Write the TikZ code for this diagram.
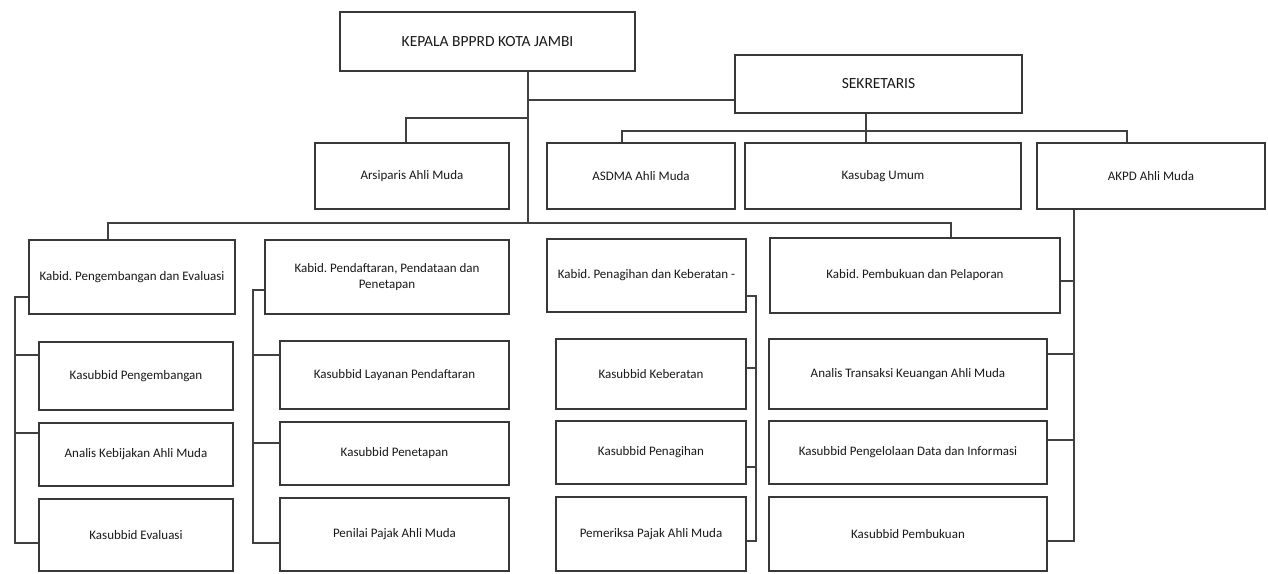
\documentclass[tikz,border=0pt]{standalone}
\usepackage{fontspec}
\setmainfont{Carlito}
\frenchspacing
\begin{document}
\begin{tikzpicture}[x=1pt,y=-1pt,
  bx/.style={draw=black!78,line width=1.6pt,fill=white,inner sep=2pt,align=center,
    font=\fontsize{13}{16}\selectfont,text=black!90},
  bigtext/.style={font=\fontsize{15.5}{18}\selectfont},
  ln/.style={draw=black!75,line width=1.4pt}]
\useasboundingbox[fill=white] (0,0) rectangle (1268,573);
% top level
\node[bx,bigtext,minimum width=295,minimum height=59] (kepala) at (487.5,41.5) {KEPALA BPPRD KOTA JAMBI};
\node[bx,bigtext,minimum width=287,minimum height=58] (sek) at (878.5,84) {SEKRETARIS};
% second row
\node[bx,minimum width=194,minimum height=66] (arsip) at (412,176) {Arsiparis Ahli Muda};
\node[bx,minimum width=188,minimum height=66] (asdma) at (641,176) {ASDMA Ahli Muda};
\node[bx,minimum width=276,minimum height=66] (kasubag) at (883,176) {Kasubag Umum};
\node[bx,minimum width=228,minimum height=66] (akpd) at (1151,176) {AKPD Ahli Muda};
% kabid row
\node[bx,minimum width=206,minimum height=74] (k1) at (132,277) {Kabid. Pengembangan dan Evaluasi};
\node[bx,minimum width=244,minimum height=74] (k2) at (387,277) {Kabid. Pendaftaran, Pendataan dan\\Penetapan};
\node[bx,minimum width=199,minimum height=73] (k3) at (646.5,275.5) {Kabid. Penagihan dan Keberatan -};
\node[bx,minimum width=290,minimum height=75] (k4) at (915,275.5) {Kabid. Pembukuan dan Pelaporan};
% column 1
\node[bx,minimum width=194,minimum height=68] (c1a) at (136,376) {Kasubbid Pengembangan};
\node[bx,minimum width=194,minimum height=63] (c1b) at (136,454.5) {Analis Kebijakan Ahli Muda};
\node[bx,minimum width=194,minimum height=72] (c1c) at (136,535) {Kasubbid Evaluasi};
% column 2
\node[bx,minimum width=229,minimum height=68] (c2a) at (394.5,375) {Kasubbid Layanan Pendaftaran};
\node[bx,minimum width=229,minimum height=63] (c2b) at (394.5,453.5) {Kasubbid Penetapan};
\node[bx,minimum width=229,minimum height=73] (c2c) at (394.5,534.5) {Penilai Pajak Ahli Muda};
% column 3
\node[bx,minimum width=190,minimum height=70] (c3a) at (651,374) {Kasubbid Keberatan};
\node[bx,minimum width=190,minimum height=63] (c3b) at (651,452.5) {Kasubbid Penagihan};
\node[bx,minimum width=190,minimum height=74] (c3c) at (651,534) {Pemeriksa Pajak Ahli Muda};
% column 4
\node[bx,minimum width=278,minimum height=70] (c4a) at (908,374) {Analis Transaksi Keuangan Ahli Muda};
\node[bx,minimum width=278,minimum height=63] (c4b) at (908,452.5) {Kasubbid Pengelolaan Data dan Informasi};
\node[bx,minimum width=278,minimum height=74] (c4c) at (908,534) {Kasubbid Pembukuan};
% junction coordinates
\coordinate (bus) at (528,223);
\coordinate (ja) at (528,118);
\coordinate (js) at (528,100);
\coordinate (sb) at (866,131);
\coordinate (s1) at (15,543);
\coordinate (s2) at (253,543);
\coordinate (s3) at (756,541);
\coordinate (s4) at (1074,541);
% trunk
\draw[ln] (kepala.south -| bus) -- (bus);
\draw[ln] (js) -- (sek.west |- js);
\draw[ln] (arsip.north -| 406,0) |- (ja);
% sekretaris bus
\draw[ln] (sek.south -| sb) -- (sb);
\draw[ln] (asdma.north -| 622,0) |- (sb) -| (akpd.north -| 1127,0);
\draw[ln] (sb) -- (kasubag.north -| sb);
% kabid bus
\draw[ln] (k1.north -| 108,0) |- (bus) -| (k4.north -| 951,0);
\draw[ln] (k2.north -| 355,0) -- (k2.north -| 355,0 |- bus);
\draw[ln] (k3.north -| 669,0) -- (k3.north -| 669,0 |- bus);
% column 1 spine
\draw[ln] (k1.west |- 0,297) -| (s1) -- (c1c.west |- s1);
\draw[ln] (s1 |- 0,355) -- (c1a.west |- 0,355);
\draw[ln] (s1 |- 0,433) -- (c1b.west |- 0,433);
% column 2 spine
\draw[ln] (k2.west |- 0,290) -| (s2) -- (c2c.west |- s2);
\draw[ln] (s2 |- 0,355) -- (c2a.west |- 0,355);
\draw[ln] (s2 |- 0,443) -- (c2b.west |- 0,443);
% column 3 spine
\draw[ln] (k3.east |- 0,296) -| (s3) -- (c3c.east |- s3);
\draw[ln] (s3 |- 0,368) -- (c3a.east |- 0,368);
\draw[ln] (s3 |- 0,467) -- (c3b.east |- 0,467);
% column 4 spine
\draw[ln] (akpd.south -| s4) -- (s4) -- (c4c.east |- s4);
\draw[ln] (s4 |- 0,281) -- (k4.east |- 0,281);
\draw[ln] (s4 |- 0,354) -- (c4a.east |- 0,354);
\draw[ln] (s4 |- 0,440) -- (c4b.east |- 0,440);
\end{tikzpicture}
\end{document}
